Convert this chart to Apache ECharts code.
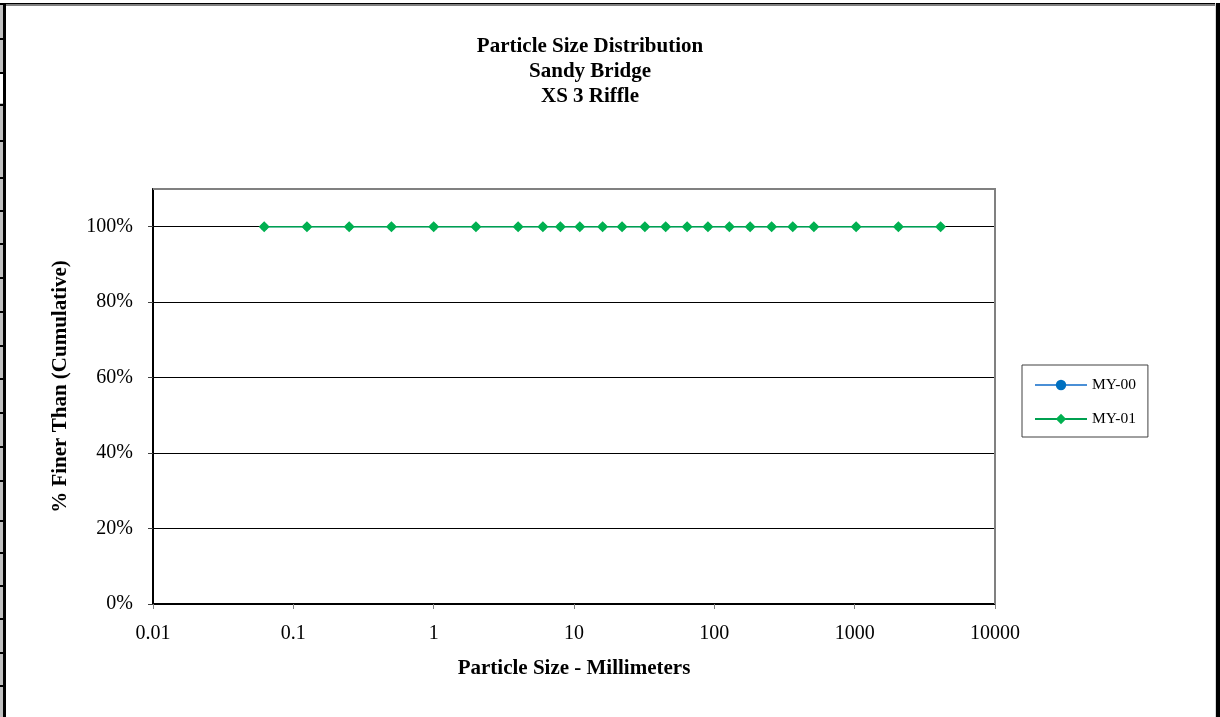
<!DOCTYPE html>
<html>
<head>
<meta charset="utf-8">
<script src="https://cdn.jsdelivr.net/npm/echarts@6/dist/echarts.min.js"></script>
<style>
html,body{margin:0;padding:0;background:#fff;}
#chart{width:1220px;height:717px;}
</style>
</head>
<body>
<div id="chart"></div>
<script>
var titleLines = ['Particle Size Distribution', 'Sandy Bridge', 'XS 3 Riffle'];
var xTickLabels = ['0.01', '0.1', '1', '10', '100', '1000', '10000'];
var yTickLabels = ['0%', '20%', '40%', '60%', '80%', '100%'];
var particleSizes = [0.062, 0.125, 0.25, 0.5, 1, 2, 4, 6, 8, 11, 16, 22, 32, 45, 64, 90, 128, 180, 256, 362, 512, 1024, 2048, 4096];
var my00 = [100, 100, 100, 100, 100, 100, 100, 100, 100, 100, 100, 100, 100, 100, 100, 100, 100, 100, 100, 100, 100, 100, 100, 100];
var my01 = [100, 100, 100, 100, 100, 100, 100, 100, 100, 100, 100, 100, 100, 100, 100, 100, 100, 100, 100, 100, 100, 100, 100, 100];
var seriesNames = ['MY-00', 'MY-01'];

var FONT = '"Liberation Serif", "Times New Roman", serif';

function pairs(xs, ys) {
  return xs.map(function (x, i) { return [x, ys[i]]; });
}

// left edge row-header-like strip
var graphics = [];
graphics.push({ type: 'rect', shape: { x: 0, y: 3, width: 3, height: 714 }, style: { fill: '#c0c0c0' }, silent: true });
graphics.push({ type: 'rect', shape: { x: 3, y: 3, width: 3, height: 714 }, style: { fill: '#000' }, silent: true });
var seps = [3, 38, 72, 104, 140, 177, 210, 243, 277, 311, 345, 378, 412, 446, 480, 520, 552, 585, 618, 652, 685];
seps.forEach(function (y) {
  graphics.push({ type: 'rect', shape: { x: 0, y: y, width: 6, height: 2 }, style: { fill: '#000' }, silent: true });
});
graphics.push({ type: 'rect', shape: { x: 0, y: 74, width: 3, height: 29 }, style: { fill: '#fff' }, silent: true });
// top border
graphics.push({ type: 'rect', shape: { x: 0, y: 3, width: 1216, height: 1.5 }, style: { fill: '#000' }, silent: true });
graphics.push({ type: 'rect', shape: { x: 6, y: 4.5, width: 1210, height: 1.5 }, style: { fill: '#808080' }, silent: true });
// right border
graphics.push({ type: 'rect', shape: { x: 1215, y: 3, width: 1, height: 714 }, style: { fill: '#d8d8d8' }, silent: true });
graphics.push({ type: 'rect', shape: { x: 1216, y: 3, width: 4, height: 714 }, style: { fill: '#000' }, silent: true });
// plot top/right gray border overlay
graphics.push({ type: 'rect', shape: { x: 153, y: 188, width: 843, height: 2 }, style: { fill: '#808080' }, silent: true, z: 10 });
graphics.push({ type: 'rect', shape: { x: 994, y: 188, width: 2, height: 416 }, style: { fill: '#808080' }, silent: true, z: 10 });

var chart = echarts.init(document.getElementById('chart'), null, { renderer: 'canvas' });
chart.setOption({
  backgroundColor: '#fff',
  animation: false,
  textStyle: { fontFamily: FONT },
  title: {
    text: titleLines.join('\n'),
    left: 585,
    textAlign: 'center',
    top: 29,
    textStyle: { fontFamily: FONT, fontSize: 21, fontWeight: 'bold', color: '#000', lineHeight: 25 }
  },
  legend: {
    orient: 'vertical',
    left: 1022,
    top: 365,
    padding: [12, 12, 10, 12],
    itemGap: 18,
    itemWidth: 52,
    itemHeight: 13,
    borderColor: '#404040',
    borderWidth: 1,
    backgroundColor: '#fff',
    textStyle: { fontFamily: FONT, fontSize: 15.5, color: '#000', padding: [0, 0, 0, 0] },
    data: seriesNames
  },
  grid: {
    left: 153,
    right: 225,
    top: 189,
    bottom: 113,
    show: true,
    borderColor: '#808080',
    borderWidth: 2,
    backgroundColor: '#fff'
  },
  xAxis: {
    type: 'log',
    logBase: 10,
    min: 0.01,
    max: 10000,
    name: 'Particle Size - Millimeters',
    nameLocation: 'middle',
    nameGap: 54,
    nameTextStyle: { fontFamily: FONT, fontSize: 21, fontWeight: 'bold', color: '#000' },
    axisLine: { show: true, lineStyle: { color: '#000', width: 2 } },
    axisTick: { show: true, length: 5, lineStyle: { color: '#808080' } },
    axisLabel: {
      fontFamily: FONT, fontSize: 20, color: '#000', margin: 20,
      formatter: function (v) {
        var idx = Math.round(Math.log10(v)) + 2;
        return xTickLabels[idx] !== undefined ? xTickLabels[idx] : '';
      }
    },
    splitLine: { show: false },
    minorTick: { show: false }
  },
  yAxis: {
    type: 'value',
    min: 0,
    max: 110,
    interval: 20,
    name: '% Finer Than (Cumulative)',
    nameLocation: 'middle',
    nameGap: 82,
    nameRotate: 90,
    nameTextStyle: { fontFamily: FONT, fontSize: 21, fontWeight: 'bold', color: '#000', padding: [0, 0, 0, 20] },
    axisLine: { show: true, lineStyle: { color: '#000', width: 2 } },
    axisTick: { show: true, length: 5, lineStyle: { color: '#404040' } },
    axisLabel: {
      fontFamily: FONT, fontSize: 20, color: '#000', margin: 20,
      showMaxLabel: false,
      formatter: function (v) {
        var idx = Math.round(v / 20);
        if (v % 20 !== 0) return '';
        return yTickLabels[idx] !== undefined ? yTickLabels[idx] : '';
      }
    },
    splitLine: { show: true, lineStyle: { color: '#000', width: 1 } }
  },
  series: [
    {
      name: seriesNames[0],
      type: 'line',
      data: pairs(particleSizes, my00),
      symbol: 'circle',
      symbolSize: 7,
      showSymbol: true,
      itemStyle: { color: '#0070c0' },
      lineStyle: { color: '#4a8fd6', width: 1 },
      z: 2
    },
    {
      name: seriesNames[1],
      type: 'line',
      data: pairs(particleSizes, my01),
      symbol: 'diamond',
      symbolSize: 11,
      showSymbol: true,
      itemStyle: { color: '#00b050' },
      lineStyle: { color: '#00a050', width: 1.3 },
      z: 3
    }
  ],
  graphic: graphics
});
</script>
</body>
</html>
